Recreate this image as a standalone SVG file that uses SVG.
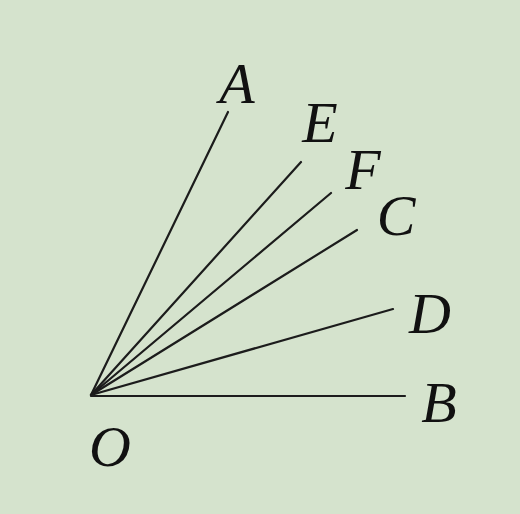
<svg xmlns="http://www.w3.org/2000/svg" width="520" height="514" viewBox="0 0 520 514">
<style>
.ray{stroke:#1c1c1c;stroke-width:2.2;stroke-linecap:round;fill:none}
.lbl{font-family:"Liberation Serif","Times New Roman",serif;font-style:italic;font-size:58px;fill:#111;text-anchor:middle}
</style>
<rect width="520" height="514" fill="#d5e3cd"/>
<g id="connectors">
<line class="ray" x1="91" y1="395" x2="228" y2="112"/>
<line class="ray" x1="91" y1="395" x2="301" y2="162"/>
<line class="ray" x1="91" y1="395" x2="331" y2="193"/>
<line class="ray" x1="91" y1="395" x2="357" y2="230"/>
<line class="ray" x1="91" y1="395" x2="393" y2="309"/>
<line class="ray" x1="91" y1="396" x2="405" y2="396"/>
</g>
<g id="A"><text class="lbl" x="237" y="103">A</text></g>
<g id="E"><text class="lbl" x="320" y="142">E</text></g>
<g id="F"><text class="lbl" x="363" y="189">F</text></g>
<g id="C"><text class="lbl" x="396" y="235">C</text></g>
<g id="D"><text class="lbl" x="430" y="333">D</text></g>
<g id="B"><text class="lbl" x="439" y="422">B</text></g>
<g id="O"><text class="lbl" x="110" y="466">O</text></g>
</svg>
